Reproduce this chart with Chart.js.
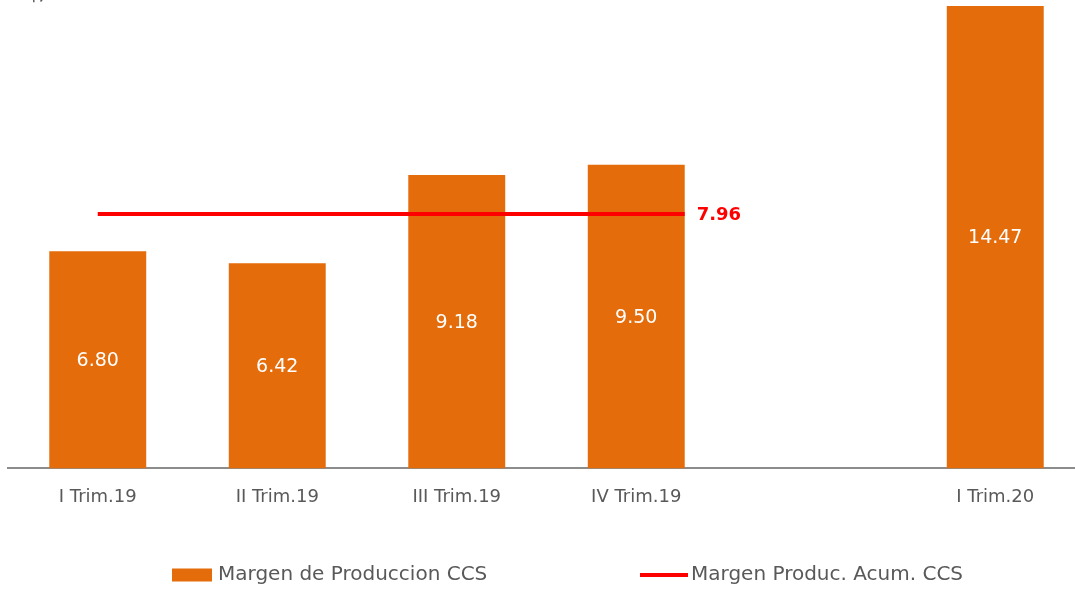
<!DOCTYPE html>
<html>
<head>
<meta charset="utf-8">
<script src="https://cdn.jsdelivr.net/npm/chart.js@4/dist/chart.umd.min.js"></script>
<style>
  html, body { margin: 0; padding: 0; background: #fff; overflow: hidden; }
  #wrap { width: 1090px; height: 592px; }
</style>
</head>
<body>
<div id="wrap"><canvas id="margenChart" width="1090" height="592"></canvas></div>
<script>
const FONT = '"DejaVu Sans", sans-serif';

// data
const categories = ['I Trim.19', 'II Trim.19', 'III Trim.19', 'IV Trim.19', '', 'I Trim.20'];
const margenValues = [6.80, 6.42, 9.18, 9.50, null, 14.47];
const acumX = [0, 1, 2, 3, 3.27];
const acumValues = [7.96, 7.96, 7.96, 7.96, 7.96];
const acumLabel = '7.96';
const unitText = 'US$/bbl';

const ORANGE = '#E46C0A';
const RED = '#FF0000';
const GREY = '#595959';

// value labels + the hand drawn legend
const labelsPlugin = {
  id: 'labelsPlugin',
  afterDatasetsDraw(chart) {
    const ctx = chart.ctx;
    ctx.save();
    // bar values, centred in each bar
    const barMeta = chart.getDatasetMeta(0);
    ctx.fillStyle = '#fff';
    ctx.font = '19px ' + FONT;
    ctx.textAlign = 'center';
    ctx.textBaseline = 'middle';
    barMeta.data.forEach((bar, i) => {
      const v = margenValues[i];
      if (v === null) return;
      ctx.fillText(v.toFixed(2), bar.x, (bar.y + bar.base) / 2 + 1);
    });
    // label at end of the line
    const lineMeta = chart.getDatasetMeta(1);
    const last = lineMeta.data[lineMeta.data.length - 1];
    ctx.fillStyle = RED;
    ctx.font = 'bold 18px ' + FONT;
    ctx.textAlign = 'left';
    ctx.fillText(acumLabel, last.x + 12, last.y + 1);

    // cut off unit text at the very top
    ctx.fillStyle = GREY;
    ctx.font = 'bold 18px ' + FONT;
    ctx.textBaseline = 'alphabetic';
    ctx.fillText(unitText, 0, 0);

    // legend
    const ly = 575;
    ctx.font = '20px ' + FONT;
    ctx.textBaseline = 'middle';
    ctx.fillStyle = ORANGE;
    ctx.fillRect(172, ly - 6.5, 40, 13);
    ctx.fillStyle = GREY;
    ctx.fillText(chart.data.datasets[0].label, 218, ly);
    ctx.strokeStyle = RED;
    ctx.lineWidth = 4;
    ctx.beginPath();
    ctx.moveTo(640, ly);
    ctx.lineTo(688, ly);
    ctx.stroke();
    ctx.fillText(chart.data.datasets[1].label, 691, ly);
    ctx.restore();
  }
};

const ctx = document.getElementById('margenChart').getContext('2d');
new Chart(ctx, {
  type: 'bar',
  data: {
    labels: categories,
    datasets: [
      {
        label: 'Margen de Produccion CCS',
        data: margenValues,
        backgroundColor: ORANGE,
        borderWidth: 0,
        grouped: false,
        barPercentage: 0.54,
        categoryPercentage: 1,
        order: 2,
      },
      {
        type: 'line',
        label: 'Margen Produc. Acum. CCS',
        data: acumX.map((x, i) => ({ x: x, y: acumValues[i] })),
        xAxisID: 'xl',
        borderColor: RED,
        backgroundColor: RED,
        borderWidth: 4,
        pointRadius: 0,
        fill: false,
        order: 1,
      },
    ],
  },
  options: {
    responsive: false,
    animation: false,
    layout: { padding: { left: 8, right: 5, top: 0, bottom: 66 } },
    plugins: {
      legend: { display: false },
      tooltip: { enabled: false },
    },
    scales: {
      x: {
        type: 'category',
        offset: true,
        grid: { display: false, drawTicks: false },
        border: { display: true, color: '#8C8C8C', width: 2 },
        ticks: {
          color: GREY,
          font: { family: FONT, size: 18 },
          padding: 18,
          autoSkip: false,
          maxRotation: 0,
        },
      },
      xl: {
        type: 'linear',
        display: false,
        offset: false,
        min: -0.5,
        max: 5.5,
      },
      y: {
        display: false,
        min: 0,
        max: 14.66,
      },
    },
  },
  plugins: [labelsPlugin],
});
</script>
</body>
</html>
